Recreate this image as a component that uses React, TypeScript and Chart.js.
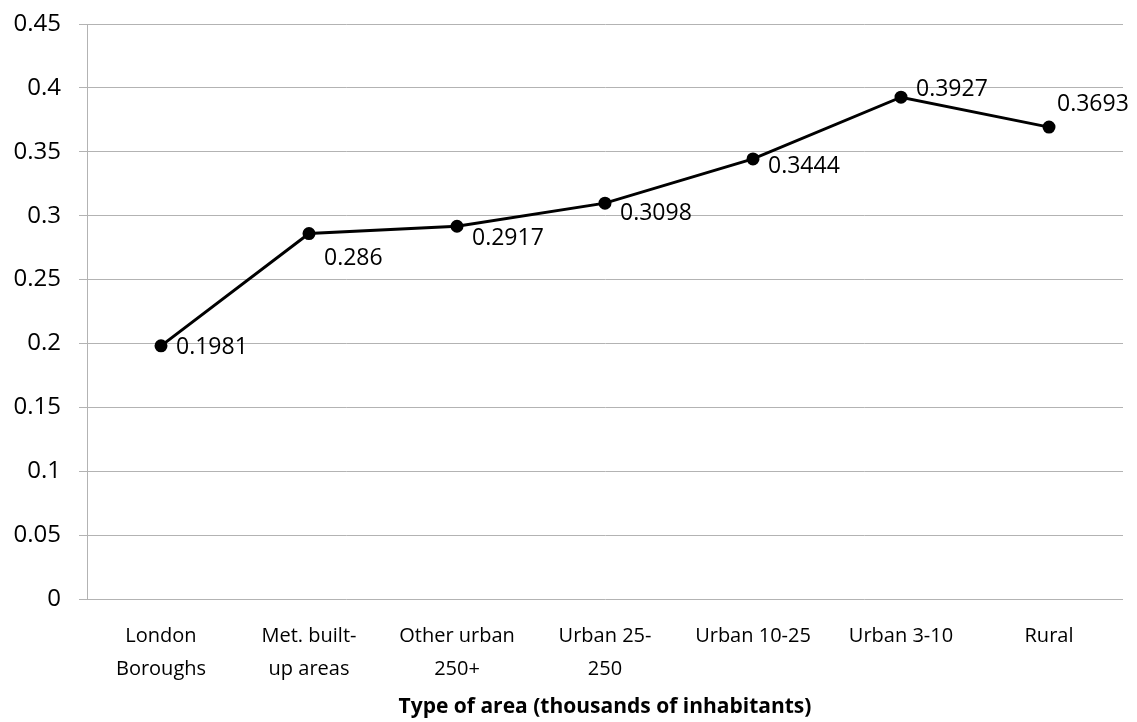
import React, { useEffect, useRef } from "react";
import { Chart, registerables } from "chart.js";

Chart.register(...registerables);

// Area types along the horizontal axis (multi-line labels)
const areaTypes: string[][] = [
  ["London", "Boroughs"],
  ["Met. built-", "up areas"],
  ["Other urban", "250+"],
  ["Urban 25-", "250"],
  ["Urban 10-25"],
  ["Urban 3-10"],
  ["Rural"],
];

// Index value for each area type
const indexValues: number[] = [0.1981, 0.286, 0.2917, 0.3098, 0.3444, 0.3927, 0.3693];

// Value-axis range and step
const yMin = 0;
const yMax = 0.45;
const yStep = 0.05;

// Where each value label sits relative to its point [dx, dy] in px
const labelOffsets: [number, number][] = [
  [15, 2],
  [15, 25],
  [15, 12],
  [15, 10],
  [15, 8],
  [15, -8],
  [8, -23],
];

const xTitle = "Type of area (thousands of inhabitants)";

const FONT = "'Open Sans', 'DejaVu Sans', sans-serif";

const valueLabels = {
  id: "valueLabels",
  afterDatasetsDraw(chart: Chart) {
    const ctx = chart.ctx;
    const meta = chart.getDatasetMeta(0);
    ctx.save();
    ctx.font = `23px ${FONT}`;
    ctx.fillStyle = "#000";
    ctx.textAlign = "left";
    ctx.textBaseline = "middle";
    meta.data.forEach((pt: any, i: number) => {
      const [dx, dy] = labelOffsets[i];
      ctx.fillText(String(indexValues[i]), pt.x + dx, pt.y + dy);
    });
    ctx.restore();
  },
};

export default function App() {
  const canvasRef = useRef<HTMLCanvasElement | null>(null);

  useEffect(() => {
    if (!canvasRef.current) return;
    const chart = new Chart(canvasRef.current, {
      type: "line",
      data: {
        labels: areaTypes,
        datasets: [
          {
            data: indexValues,
            borderColor: "#000",
            backgroundColor: "#000",
            borderWidth: 3,
            pointRadius: 5,
            pointBackgroundColor: "#000",
            pointBorderColor: "#000",
            tension: 0,
          },
        ],
      },
      options: {
        responsive: false,
        animation: false,
        layout: { padding: { top: 24, right: 14, left: 0, bottom: 0 } },
        plugins: {
          legend: { display: false },
          tooltip: { enabled: false },
        },
        scales: {
          x: {
            offset: true,
            grid: { display: false, drawTicks: false },
            border: { display: false },
            ticks: {
              color: "#000",
              padding: 21,
              maxRotation: 0,
              autoSkip: false,
              font: { family: FONT, size: 20, lineHeight: 1.65 },
            },
            title: {
              display: true,
              text: xTitle,
              color: "#000",
              font: { family: FONT, size: 21, weight: "bold", lineHeight: 1.2 },
              padding: { top: 2, bottom: 2 },
            },
            afterFit: (scale: any) => {
              scale.height = 123;
            },
          },
          y: {
            min: yMin,
            max: yMax,
            grid: { color: "#b3b3b3", lineWidth: 1, tickLength: 8 },
            border: { display: true, color: "#b3b3b3", width: 1 },
            ticks: {
              stepSize: yStep,
              color: "#000",
              padding: 18,
              font: { family: FONT, size: 24 },
              callback: (v: any) => String(Math.round(Number(v) * 100) / 100),
            },
            afterFit: (scale: any) => {
              scale.width = 87;
              scale.paddingTop = 0;
              scale.paddingBottom = 0;
            },
          },
        },
      },
      plugins: [valueLabels],
    });
    return () => chart.destroy();
  }, []);

  return (
    <div style={{ position: "fixed", left: 0, top: 0, width: 1137, height: 722, background: "#fff" }}>
      <canvas ref={canvasRef} width={1137} height={722} />
    </div>
  );
}
